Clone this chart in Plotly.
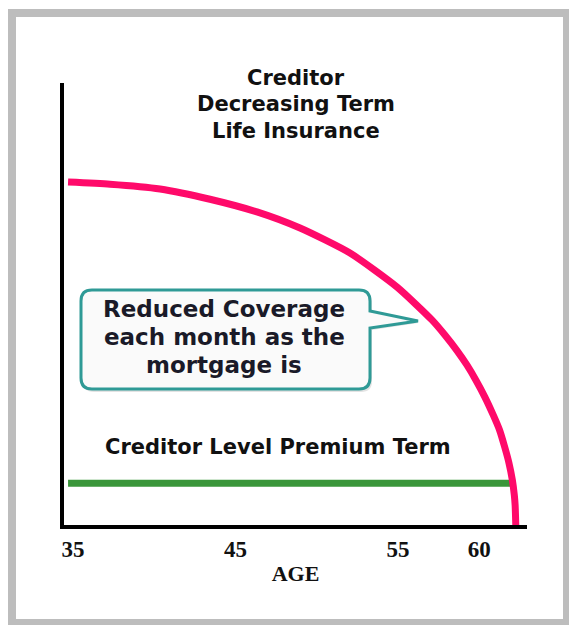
import plotly.graph_objects as go

# Coverage curves (age in years, coverage as % of the starting amount)
decreasing_age = [34.70, 37.28, 40.36, 43.43, 46.32, 48.97, 52.04, 54.93, 57.08, 57.88,
                  58.60, 59.24, 59.78, 60.34, 60.85, 61.24, 61.56, 61.82, 62.03, 62.15,
                  62.20, 62.24]
decreasing_cov = [100.0, 99.4, 98.0, 95.0, 91.3, 86.6, 79.3, 69.4, 59.8, 55.4,
                  51.0, 46.6, 42.3, 37.3, 32.1, 27.7, 22.7, 18.1, 13.1, 8.7,
                  5.8, 0.0]

level_age = [34.7, 61.9]
level_cov = [12.2, 12.2]

age_ticks = [35, 45, 55, 60]
age_tick_labels = ["35", "45", "55", "60"]

title_lines = ["Creditor", "Decreasing Term", "Life Insurance"]
level_label = "Creditor Level Premium Term"
callout_lines = ["Reduced Coverage", "each month as the", "mortgage is"]

# Page geometry (pixels)
WIDTH, HEIGHT = 569, 625
L, R, T, B = 64, 527, 83, 525
PW, PH = R - L, B - T


def to_paper(x, y):
    return (x - L) / PW, (B - y) / PH


def path_from(points_cmds):
    out = []
    for cmd, pts in points_cmds:
        coords = " ".join(f"{to_paper(x, y)[0]:.5f},{to_paper(x, y)[1]:.5f}" for x, y in pts)
        out.append(f"{cmd}{coords}")
    return " ".join(out) + " Z"


def callout_path(x0, y0, x1, y1, r, tip, base_top, base_bot):
    cmds = [
        ("M", [(x0 + r, y0)]),
        ("L", [(x1 - r, y0)]),
        ("Q", [(x1, y0), (x1, y0 + r)]),
        ("L", [(x1, base_top)]),
        ("L", [tip]),
        ("L", [(x1, base_bot)]),
        ("L", [(x1, y1 - r)]),
        ("Q", [(x1, y1), (x1 - r, y1)]),
        ("L", [(x0 + r, y1)]),
        ("Q", [(x0, y1), (x0, y1 - r)]),
        ("L", [(x0, y0 + r)]),
        ("Q", [(x0, y0), (x0 + r, y0)]),
    ]
    return path_from(cmds)


fig = go.Figure()

fig.add_trace(go.Scatter(
    x=level_age, y=level_cov, mode="lines",
    line=dict(color="#3a963a", width=7),
    hoverinfo="skip", showlegend=False,
))
fig.add_trace(go.Scatter(
    x=decreasing_age, y=decreasing_cov, mode="lines",
    line=dict(color="#ff0a6a", width=7, shape="spline", smoothing=0.6),
    hoverinfo="skip", showlegend=False,
))

shapes = []
# outer grey frame
fx0, fy0 = to_paper(12, 13)
fx1, fy1 = to_paper(567, 623)
shapes.append(dict(type="rect", xref="paper", yref="paper",
                   x0=fx0, y0=fy0, x1=fx1, y1=fy1,
                   line=dict(color="#bdbdbd", width=8), fillcolor="rgba(0,0,0,0)", layer="below"))
# callout shadow and box
shapes.append(dict(type="path", xref="paper", yref="paper",
                   path=callout_path(83, 292, 372, 392, 11, (418, 323), 313, 330),
                   line=dict(color="rgba(0,0,0,0)", width=0), fillcolor="rgba(200,200,200,0.5)", layer="above"))
shapes.append(dict(type="path", xref="paper", yref="paper",
                   path=callout_path(81, 290, 370, 389, 11, (418, 321), 311, 328),
                   line=dict(color="#2f9a96", width=3), fillcolor="#fafafa", layer="above"))

annotations = []
bold_sans = "DejaVu Sans, Verdana, sans-serif"
serif = "Liberation Serif, Times New Roman, serif"


def add_text(text, x, y, size, color="#111111"):
    ax, ay = to_paper(x, y)
    annotations.append(dict(xref="paper", yref="paper", x=ax, y=ay,
                            xanchor="center", yanchor="middle",
                            text=f"<b>{text}</b>", showarrow=False,
                            font=dict(family=bold_sans, size=size, color=color)))


for line, y in zip(title_lines, [78, 104, 131]):
    add_text(line, 296, y, 21)

add_text(level_label, 278, 447, 21)

for line, y in zip(callout_lines, [309, 337, 365]):
    add_text(line, 224, y, 23, "#1a1a28")

fig.update_layout(
    width=WIDTH, height=HEIGHT,
    margin=dict(l=L, r=WIDTH - R, t=T, b=HEIGHT - B, pad=0),
    paper_bgcolor="white", plot_bgcolor="white",
    shapes=shapes, annotations=annotations,
    xaxis=dict(
        range=[34.45, 62.93], showgrid=False, zeroline=False,
        showline=True, linecolor="black", linewidth=4,
        tickmode="array", tickvals=age_ticks, ticktext=[f"<b>{t}</b>" for t in age_tick_labels],
        ticks="", tickfont=dict(family=serif, size=23, color="#111111"),
        title=dict(text="<b>AGE</b>", standoff=6,
                   font=dict(family=serif, size=22, color="#111111")),
    ),
    yaxis=dict(
        range=[0, 128.9], showgrid=False, zeroline=False,
        showline=True, linecolor="black", linewidth=4,
        showticklabels=False, ticks="",
    ),
)

fig.write_html("out.html")
